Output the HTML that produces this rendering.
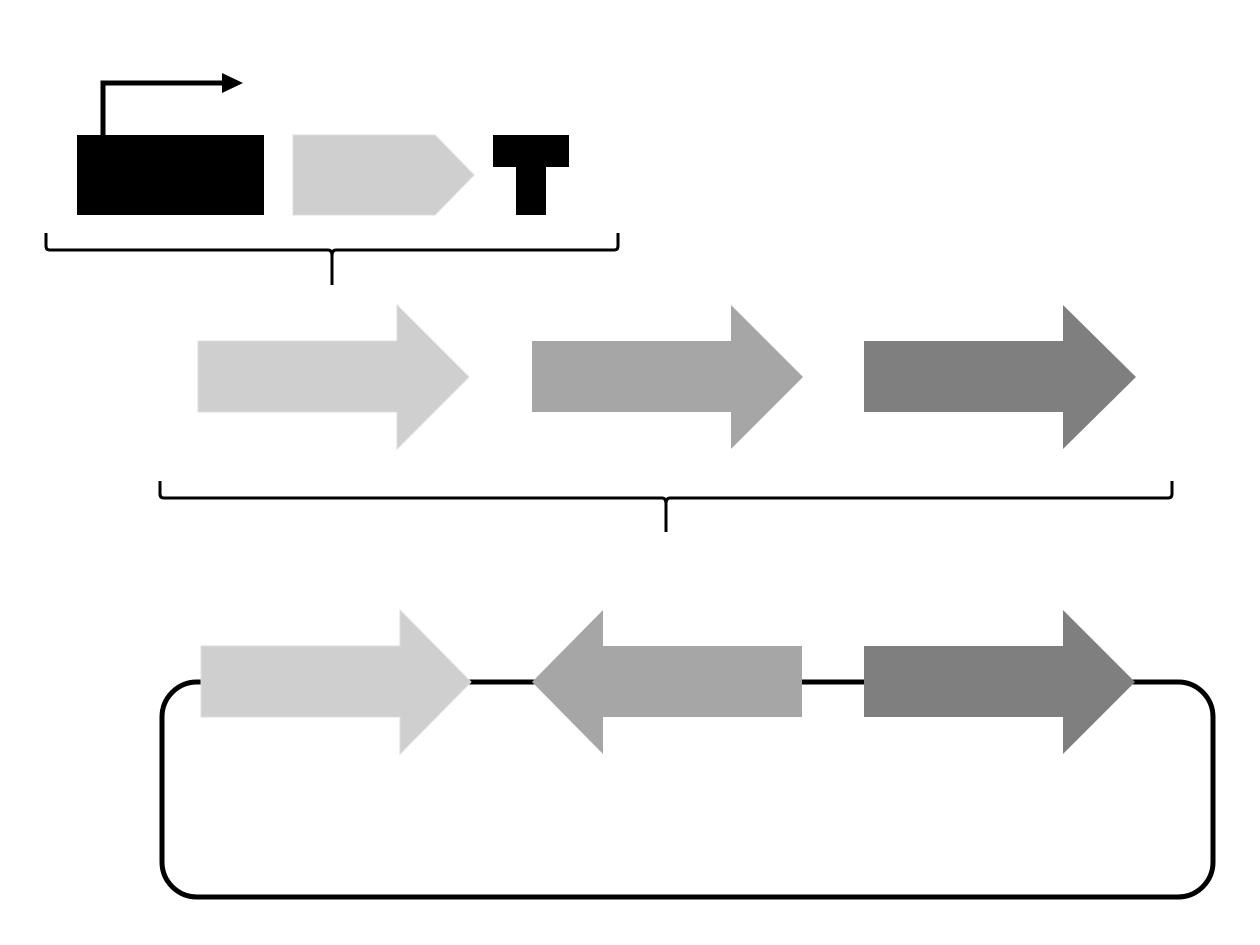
<!DOCTYPE html>
<html><head><meta charset="utf-8"><style>html,body{margin:0;padding:0;background:#fff;}svg{display:block}</style></head>
<body>
<svg width="1260" height="945" viewBox="0 0 1260 945" xmlns="http://www.w3.org/2000/svg">
<rect x="77" y="135" width="187" height="80" fill="#000"/>
<polyline points="103,135 103,83 225,83" fill="none" stroke="#000" stroke-width="5"/>
<polygon points="222,73 243,83 222,93" fill="#000"/>
<polygon points="293,135 435,135 474,175 435,215 293,215" fill="#d0cfd0" stroke="#dcdcdc" stroke-width="1"/>
<rect x="493" y="135" width="76" height="32" fill="#000"/>
<rect x="516" y="166" width="30" height="49" fill="#000"/>
<path d="M46,233 L46,246 Q46,250 50,250 L328,250 Q332,250 332,256 L332,285 M332,256 Q332,250 336,250 L614,250 Q618,250 618,246 L618,233" fill="none" stroke="#000" stroke-width="3"/>
<polygon points="198,341 397,341 397,305 469,377 397,449 397,412 198,412" fill="#d0cfd0" stroke="#dcdcdc" stroke-width="1"/>
<polygon points="532,341 731,341 731,305 803,377 731,449 731,412 532,412" fill="#a6a6a6"/>
<polygon points="864,341 1063,341 1063,305 1136,377 1063,449 1063,412 864,412" fill="#7f7f7f"/>
<path d="M160,481 L160,494 Q160,498 164,498 L662,498 Q666,498 666,504 L666,532 M666,504 Q666,498 670,498 L1168,498 Q1172,498 1172,494 L1172,481" fill="none" stroke="#000" stroke-width="3"/>
<rect x="162" y="682" width="1051" height="215" rx="35" ry="35" fill="none" stroke="#000" stroke-width="5"/>
<polygon points="201,646 400,646 400,610 471,682 400,754 400,717 201,717" fill="#d0cfd0" stroke="#dcdcdc" stroke-width="1"/>
<polygon points="802,646 603,646 603,610 532,682 603,754 603,717 802,717" fill="#a6a6a6"/>
<polygon points="864,646 1063,646 1063,610 1135,682 1063,754 1063,717 864,717" fill="#7f7f7f"/>
</svg>
</body></html>
